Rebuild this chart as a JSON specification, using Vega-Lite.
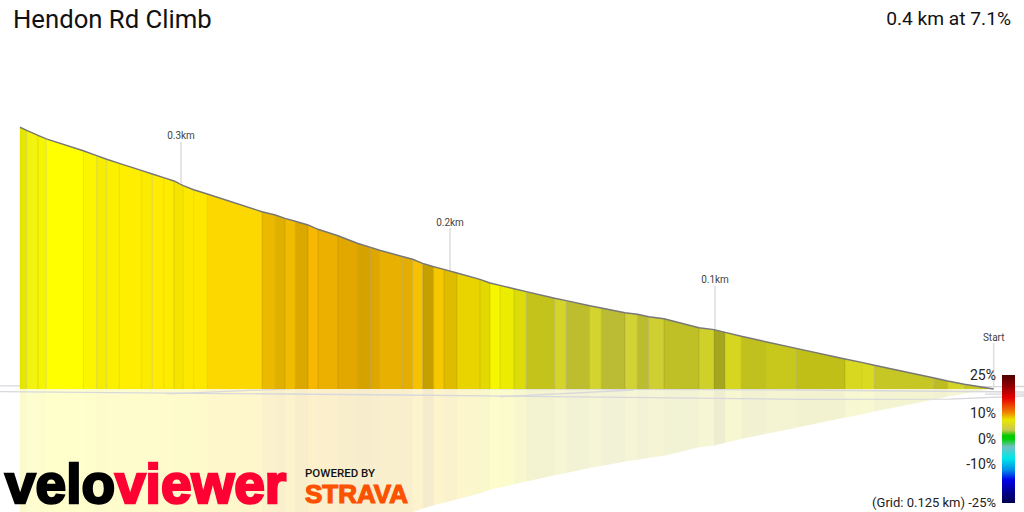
{"$schema":"https://vega.github.io/schema/vega-lite/v6.json","width":1024,"height":512,"padding":0,"autosize":{"type":"none"},"background":"white","view":{"stroke":null},
"config":{"axis":{"grid":false}},
"datasets":{"slices":[
{"s":1,"km":0.36063,"ele":28.45,"refl":-27.02,"c":"#e6e600"},{"s":1,"km":0.35815,"ele":28.12,"refl":-26.71,"c":"#e6e600"},
{"s":2,"km":0.35815,"ele":28.12,"refl":-26.71,"c":"#f3f310"},{"s":2,"km":0.35396,"ele":27.58,"refl":-26.20,"c":"#f3f310"},
{"s":3,"km":0.35396,"ele":27.58,"refl":-26.20,"c":"#f5f500"},{"s":3,"km":0.35089,"ele":27.18,"refl":-25.82,"c":"#f5f500"},
{"s":4,"km":0.35089,"ele":27.18,"refl":-25.82,"c":"#ffff00"},{"s":4,"km":0.33719,"ele":25.90,"refl":-24.61,"c":"#ffff00"},
{"s":5,"km":0.33719,"ele":25.90,"refl":-24.61,"c":"#fcf500"},{"s":5,"km":0.33222,"ele":25.37,"refl":-24.10,"c":"#fcf500"},
{"s":6,"km":0.33222,"ele":25.37,"refl":-24.10,"c":"#f5ec00"},{"s":6,"km":0.32852,"ele":24.97,"refl":-23.72,"c":"#f5ec00"},
{"s":7,"km":0.32852,"ele":24.97,"refl":-23.72,"c":"#faf000"},{"s":7,"km":0.32385,"ele":24.53,"refl":-23.30,"c":"#faf000"},
{"s":8,"km":0.32385,"ele":24.53,"refl":-23.30,"c":"#ffee00"},{"s":8,"km":0.31570,"ele":23.76,"refl":-22.57,"c":"#ffee00"},
{"s":9,"km":0.31570,"ele":23.76,"refl":-22.57,"c":"#fbeb00"},{"s":9,"km":0.31163,"ele":23.37,"refl":-22.20,"c":"#fbeb00"},
{"s":10,"km":0.31163,"ele":23.37,"refl":-22.20,"c":"#ffec00"},{"s":10,"km":0.30741,"ele":22.97,"refl":-21.82,"c":"#ffec00"},
{"s":11,"km":0.30741,"ele":22.97,"refl":-21.82,"c":"#fdeb00"},{"s":11,"km":0.30359,"ele":22.61,"refl":-21.48,"c":"#fdeb00"},
{"s":12,"km":0.30359,"ele":22.61,"refl":-21.48,"c":"#f4e400"},{"s":12,"km":0.30015,"ele":22.10,"refl":-21.00,"c":"#f4e400"},
{"s":13,"km":0.30015,"ele":22.10,"refl":-21.00,"c":"#fee800"},{"s":13,"km":0.29630,"ele":21.66,"refl":-20.58,"c":"#fee800"},
{"s":14,"km":0.29630,"ele":21.66,"refl":-20.58,"c":"#ffe800"},{"s":14,"km":0.29126,"ele":21.20,"refl":-20.14,"c":"#ffe800"},
{"s":15,"km":0.29126,"ele":21.20,"refl":-20.14,"c":"#fdd800"},{"s":15,"km":0.27100,"ele":19.27,"refl":-18.31,"c":"#fdd800"},
{"s":16,"km":0.27100,"ele":19.27,"refl":-18.31,"c":"#ebba00"},{"s":16,"km":0.26607,"ele":18.91,"refl":-17.96,"c":"#ebba00"},
{"s":17,"km":0.26607,"ele":18.91,"refl":-17.96,"c":"#e0b000"},{"s":17,"km":0.26248,"ele":18.55,"refl":-17.63,"c":"#e0b000"},
{"s":18,"km":0.26248,"ele":18.55,"refl":-17.63,"c":"#f0bc00"},{"s":18,"km":0.25867,"ele":18.23,"refl":-17.32,"c":"#f0bc00"},
{"s":19,"km":0.25867,"ele":18.23,"refl":-17.32,"c":"#dba800"},{"s":19,"km":0.25396,"ele":17.83,"refl":-16.94,"c":"#dba800"},
{"s":20,"km":0.25396,"ele":17.83,"refl":-16.94,"c":"#f6b800"},{"s":20,"km":0.25026,"ele":17.36,"refl":-16.49,"c":"#f6b800"},
{"s":21,"km":0.25026,"ele":17.36,"refl":-16.49,"c":"#ebb000"},{"s":21,"km":0.24285,"ele":16.66,"refl":-15.83,"c":"#ebb000"},
{"s":22,"km":0.24285,"ele":16.66,"refl":-15.83,"c":"#e2a800"},{"s":22,"km":0.23570,"ele":15.84,"refl":-15.05,"c":"#e2a800"},
{"s":23,"km":0.23570,"ele":15.84,"refl":-15.05,"c":"#d6a200"},{"s":23,"km":0.23074,"ele":15.40,"refl":-14.63,"c":"#d6a200"},
{"s":24,"km":0.23074,"ele":15.40,"refl":-14.63,"c":"#dda700"},{"s":24,"km":0.22741,"ele":15.08,"refl":-14.32,"c":"#dda700"},
{"s":25,"km":0.22741,"ele":15.08,"refl":-14.32,"c":"#e8b000"},{"s":25,"km":0.21904,"ele":14.40,"refl":-13.68,"c":"#e8b000"},
{"s":26,"km":0.21904,"ele":14.40,"refl":-13.68,"c":"#e3ae00"},{"s":26,"km":0.21519,"ele":14.10,"refl":-13.39,"c":"#e3ae00"},
{"s":27,"km":0.21519,"ele":14.10,"refl":-13.39,"c":"#f6c200"},{"s":27,"km":0.21148,"ele":13.66,"refl":-12.98,"c":"#f6c200"},
{"s":28,"km":0.21148,"ele":13.66,"refl":-12.98,"c":"#c6a000"},{"s":28,"km":0.20741,"ele":13.29,"refl":-12.63,"c":"#c6a000"},
{"s":29,"km":0.20741,"ele":13.29,"refl":-12.63,"c":"#f6c800"},{"s":29,"km":0.20359,"ele":13.01,"refl":-12.36,"c":"#f6c800"},
{"s":30,"km":0.20359,"ele":13.01,"refl":-12.36,"c":"#e0bc00"},{"s":30,"km":0.19878,"ele":12.61,"refl":-11.98,"c":"#e0bc00"},
{"s":31,"km":0.19878,"ele":12.61,"refl":-11.98,"c":"#e9d400"},{"s":31,"km":0.19026,"ele":11.92,"refl":-11.33,"c":"#e9d400"},
{"s":32,"km":0.19026,"ele":11.92,"refl":-11.33,"c":"#e3d800"},{"s":32,"km":0.18656,"ele":11.52,"refl":-10.94,"c":"#e3d800"},
{"s":33,"km":0.18656,"ele":11.52,"refl":-10.94,"c":"#f6f600"},{"s":33,"km":0.18285,"ele":11.27,"refl":-10.71,"c":"#f6f600"},
{"s":34,"km":0.18285,"ele":11.27,"refl":-10.71,"c":"#ecec00"},{"s":34,"km":0.17767,"ele":10.90,"refl":-10.36,"c":"#ecec00"},
{"s":35,"km":0.17767,"ele":10.90,"refl":-10.36,"c":"#dcdc0a"},{"s":35,"km":0.17311,"ele":10.58,"refl":-10.05,"c":"#dcdc0a"},
{"s":36,"km":0.17311,"ele":10.58,"refl":-10.05,"c":"#c3c31c"},{"s":36,"km":0.16259,"ele":9.86,"refl":-9.37,"c":"#c3c31c"},
{"s":37,"km":0.16259,"ele":9.86,"refl":-9.37,"c":"#d4d42a"},{"s":37,"km":0.15830,"ele":9.60,"refl":-9.12,"c":"#d4d42a"},
{"s":38,"km":0.15830,"ele":9.60,"refl":-9.12,"c":"#bdbd2e"},{"s":38,"km":0.14963,"ele":9.05,"refl":-8.60,"c":"#bdbd2e"},
{"s":39,"km":0.14963,"ele":9.05,"refl":-8.60,"c":"#d4d430"},{"s":39,"km":0.14533,"ele":8.80,"refl":-8.36,"c":"#d4d430"},
{"s":40,"km":0.14533,"ele":8.80,"refl":-8.36,"c":"#bcbc34"},{"s":40,"km":0.13656,"ele":8.29,"refl":-7.88,"c":"#bcbc34"},
{"s":41,"km":0.13656,"ele":8.29,"refl":-7.88,"c":"#d2d236"},{"s":41,"km":0.13200,"ele":8.12,"refl":-7.71,"c":"#d2d236"},
{"s":42,"km":0.13200,"ele":8.12,"refl":-7.71,"c":"#bcbc30"},{"s":42,"km":0.12778,"ele":7.86,"refl":-7.47,"c":"#bcbc30"},
{"s":43,"km":0.12778,"ele":7.86,"refl":-7.47,"c":"#cfcf32"},{"s":43,"km":0.12211,"ele":7.64,"refl":-7.26,"c":"#cfcf32"},
{"s":44,"km":0.12211,"ele":7.64,"refl":-7.26,"c":"#bfbf26"},{"s":44,"km":0.10915,"ele":6.66,"refl":-6.33,"c":"#bfbf26"},
{"s":45,"km":0.10915,"ele":6.66,"refl":-6.33,"c":"#d0d02a"},{"s":45,"km":0.10359,"ele":6.45,"refl":-6.13,"c":"#d0d02a"},
{"s":46,"km":0.10359,"ele":6.45,"refl":-6.13,"c":"#a5a51e"},{"s":46,"km":0.09941,"ele":6.16,"refl":-5.85,"c":"#a5a51e"},
{"s":47,"km":0.09941,"ele":6.16,"refl":-5.85,"c":"#d6d620"},{"s":47,"km":0.09348,"ele":5.73,"refl":-5.44,"c":"#d6d620"},
{"s":48,"km":0.09348,"ele":5.73,"refl":-5.44,"c":"#c0c01e"},{"s":48,"km":0.08444,"ele":5.14,"refl":-4.88,"c":"#c0c01e"},
{"s":49,"km":0.08444,"ele":5.14,"refl":-4.88,"c":"#c8c81c"},{"s":49,"km":0.07311,"ele":4.42,"refl":-4.20,"c":"#c8c81c"},
{"s":50,"km":0.07311,"ele":4.42,"refl":-4.20,"c":"#bfbf18"},{"s":50,"km":0.05507,"ele":3.26,"refl":-3.10,"c":"#bfbf18"},
{"s":51,"km":0.05507,"ele":3.26,"refl":-3.10,"c":"#d8d820"},{"s":51,"km":0.04889,"ele":2.90,"refl":-2.76,"c":"#d8d820"},
{"s":52,"km":0.04889,"ele":2.90,"refl":-2.76,"c":"#dada20"},{"s":52,"km":0.04422,"ele":2.58,"refl":-2.45,"c":"#dada20"},
{"s":53,"km":0.04422,"ele":2.58,"refl":-2.45,"c":"#c6c624"},{"s":53,"km":0.02200,"ele":1.20,"refl":-1.14,"c":"#c6c624"},
{"s":54,"km":0.02200,"ele":1.20,"refl":-1.14,"c":"#bcbc20"},{"s":54,"km":0.01704,"ele":0.87,"refl":-0.83,"c":"#bcbc20"},
{"s":55,"km":0.01704,"ele":0.87,"refl":-0.83,"c":"#d4d428"},{"s":55,"km":0.01089,"ele":0.51,"refl":-0.48,"c":"#d4d428"},
{"s":56,"km":0.01089,"ele":0.51,"refl":-0.48,"c":"#c8c820"},{"s":56,"km":0.00507,"ele":0.24,"refl":-0.23,"c":"#c8c820"},
{"s":57,"km":0.00507,"ele":0.24,"refl":-0.23,"c":"#c4c428"},{"s":57,"km":0,"ele":0,"refl":0,"c":"#c4c428"}
],
"grid":[
{"g":"a","km":0.36804,"ele":0.33},{"g":"a","km":-0.01122,"ele":0.27},
{"g":"b","km":0.36804,"ele":-0.29},{"g":"b","km":0.21989,"ele":-0.65},{"g":"b","km":0.07174,"ele":-1.12},{"g":"b","km":0.01619,"ele":-1.09},{"g":"b","km":-0.01122,"ele":-0.76},
{"g":"c","km":0.25693,"ele":0.08},{"g":"c","km":0.21989,"ele":0.08},{"g":"c","km":0.07174,"ele":-0.11},{"g":"c","km":-0.01122,"ele":-0.33},
{"g":"d","km":0.30615,"ele":-0.54},{"g":"d","km":0.25693,"ele":0.07},
{"g":"e","km":0.18285,"ele":-0.84},{"g":"e","km":0.13344,"ele":-0.11},
{"g":"f","km":0.00322,"ele":-0.55},{"g":"f","km":-0.01122,"ele":-0.55}
],
"stems":[
{"km":0.30100,"top":26.85,"bottom":22.28},{"km":0.20137,"top":17.5,"bottom":12.93},{"km":0.10322,"top":11.2,"bottom":6.52},{"km":0,"top":5,"bottom":0.1}
]},
"layer":[
{"data":{"name":"slices"},"mark":{"type":"area","opacity":0.2,"clip":true},"encoding":{"x":{"field":"km","type":"quantitative","sort":null,"scale":{"domain":[0.36804,-0.01122],"nice":false,"zero":false},"axis":null},"y":{"field":"refl","type":"quantitative","stack":null,"scale":{"domain":[-13.37,42.283],"nice":false,"zero":false},"axis":null},"y2":{"datum":0},"color":{"field":"c","type":"nominal","scale":null,"legend":null},"detail":{"field":"s"}}},
{"data":{"name":"grid"},"mark":{"type":"line","color":"#d8d8dc","strokeWidth":1.3,"clip":true},"encoding":{"x":{"field":"km","type":"quantitative","sort":null},"y":{"field":"ele","type":"quantitative"},"detail":{"field":"g"}}},
{"data":{"name":"slices"},"mark":{"type":"area","clip":true},"encoding":{"x":{"field":"km","type":"quantitative","sort":null},"y":{"field":"ele","type":"quantitative","stack":null},"y2":{"datum":0},"color":{"field":"c","type":"nominal","scale":null,"legend":null},"detail":{"field":"s"}}},
{"data":{"name":"slices"},"mark":{"type":"rule","color":"#000000","opacity":0.05,"strokeWidth":1},"encoding":{"x":{"field":"km","type":"quantitative"},"y":{"field":"ele","type":"quantitative"},"y2":{"datum":0}}},
{"data":{"name":"slices"},"mark":{"type":"line","color":"#777777","strokeWidth":1.4,"clip":true},"encoding":{"x":{"field":"km","type":"quantitative","sort":null},"y":{"field":"ele","type":"quantitative"},"order":{"field":"s","type":"ordinal"}}},
{"data":{"name":"stems"},"mark":{"type":"rule","color":"#dddddd","strokeWidth":1.5},"encoding":{"x":{"field":"km","type":"quantitative"},"y":{"field":"top","type":"quantitative"},"y2":{"field":"bottom"}}},
{"data":{"values":[{"km":0.30100,"ele":27.50,"t":"0.3km"},{"km":0.20137,"ele":18.04,"t":"0.2km"},{"km":0.10322,"ele":11.85,"t":"0.1km"},{"km":0,"ele":5.54,"t":"Start"}]},"mark":{"type":"text","font":"Roboto","fontSize":10,"color":"#444444","align":"center","baseline":"middle"},"encoding":{"x":{"field":"km","type":"quantitative"},"y":{"field":"ele","type":"quantitative"},"text":{"field":"t"}}},
{"data":{"values":[{"km":0.36322,"ele":39.24,"t":"Hendon Rd Climb"}]},"mark":{"type":"text","font":"Roboto","fontSize":25.7,"color":"#111111","align":"left","baseline":"alphabetic"},"encoding":{"x":{"field":"km","type":"quantitative"},"y":{"field":"ele","type":"quantitative"},"text":{"field":"t"}}},
{"data":{"values":[{"km":-0.00641,"ele":39.57,"t":"0.4 km at 7.1%"}]},"mark":{"type":"text","font":"Roboto","fontSize":19.2,"color":"#111111","align":"right","baseline":"alphabetic"},"encoding":{"x":{"field":"km","type":"quantitative"},"y":{"field":"ele","type":"quantitative"},"text":{"field":"t"}}},
{"data":{"values":[{"km":-0.00085,"ele":1.41,"t":"25%"},{"km":-0.00085,"ele":-2.72,"t":"10%"},{"km":-0.00085,"ele":-5.54,"t":"0%"},{"km":-0.00085,"ele":-8.26,"t":"-10%"}]},"mark":{"type":"text","font":"Roboto","fontSize":14,"color":"#222222","align":"right","baseline":"middle"},"encoding":{"x":{"field":"km","type":"quantitative"},"y":{"field":"ele","type":"quantitative"},"text":{"field":"t"}}},
{"data":{"values":[{"km":-0.00085,"ele":-12.39,"t":"(Grid: 0.125 km) -25%"}]},"mark":{"type":"text","font":"Roboto","fontSize":13,"color":"#222222","align":"right","baseline":"middle"},"encoding":{"x":{"field":"km","type":"quantitative"},"y":{"field":"ele","type":"quantitative"},"text":{"field":"t"}}},
{"data":{"values":[{"k0":-0.00307,"k1":-0.00789,"e0":1.52,"e1":-12.39}]},"mark":{"type":"rect","fill":{"gradient":"linear","x1":0,"y1":0,"x2":0,"y2":1,"stops":[{"offset":0,"color":"#4d0000"},{"offset":0.08,"color":"#8b0000"},{"offset":0.18,"color":"#e60000"},{"offset":0.29,"color":"#f08000"},{"offset":0.35,"color":"#e8e800"},{"offset":0.43,"color":"#c8c850"},{"offset":0.475,"color":"#00c800"},{"offset":0.5,"color":"#00d000"},{"offset":0.56,"color":"#70c0c0"},{"offset":0.65,"color":"#00e8e8"},{"offset":0.74,"color":"#0090e8"},{"offset":0.82,"color":"#0000e8"},{"offset":0.92,"color":"#00008b"},{"offset":1,"color":"#000050"}]}},"encoding":{"x":{"field":"k0","type":"quantitative"},"x2":{"field":"k1"},"y":{"field":"e0","type":"quantitative"},"y2":{"field":"e1"}}},
{"data":{"values":[{"km":0.36618,"ele":-12.39,"t":"velo"}]},"mark":{"type":"text","font":"Liberation Sans","fontWeight":"bold","fontSize":55,"color":"#000000","stroke":"#000000","strokeWidth":2.5,"align":"left","baseline":"alphabetic"},"encoding":{"x":{"field":"km","type":"quantitative"},"y":{"field":"ele","type":"quantitative"},"text":{"field":"t"}}},
{"data":{"values":[{"km":0.32544,"ele":-12.39,"t":"viewer"}]},"mark":{"type":"text","font":"Liberation Sans","fontWeight":"bold","fontSize":55,"color":"#ff0033","stroke":"#ff0033","strokeWidth":2.5,"align":"left","baseline":"alphabetic"},"encoding":{"x":{"field":"km","type":"quantitative"},"y":{"field":"ele","type":"quantitative"},"text":{"field":"t"}}},
{"data":{"values":[{"km":0.25507,"ele":-9.57,"t":"POWERED BY"}]},"mark":{"type":"text","font":"Roboto","fontWeight":500,"fontSize":11.5,"color":"#111111","align":"left","baseline":"alphabetic"},"encoding":{"x":{"field":"km","type":"quantitative"},"y":{"field":"ele","type":"quantitative"},"text":{"field":"t"}}},
{"data":{"values":[{"km":0.25507,"ele":-12.39,"t":"STRAVA"}]},"mark":{"type":"text","font":"Liberation Sans","fontWeight":"bold","fontSize":26,"color":"#fc5200","stroke":"#fc5200","strokeWidth":1.2,"align":"left","baseline":"alphabetic"},"encoding":{"x":{"field":"km","type":"quantitative"},"y":{"field":"ele","type":"quantitative"},"text":{"field":"t"}}}
]}
